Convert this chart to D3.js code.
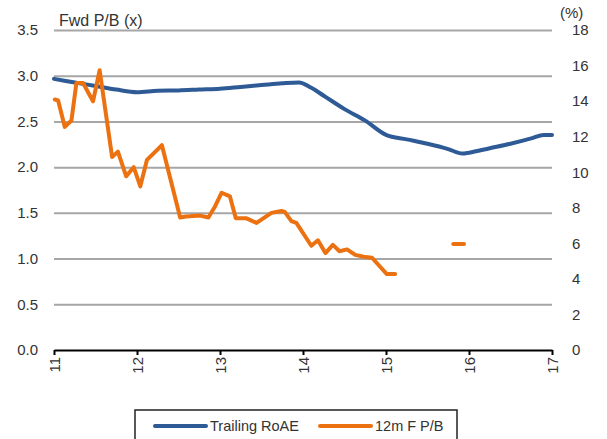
<!DOCTYPE html>
<html><head><meta charset="utf-8">
<script src="https://cdn.jsdelivr.net/npm/d3@7"></script>
<style>
html,body{margin:0;padding:0;background:#fff;}
svg{display:block;font-family:"Liberation Sans",Arial,sans-serif;}
</style></head>
<body><svg id="c" width="607" height="439"></svg>
<script>
// ---- data ----
const leftTicks = [0.0, 0.5, 1.0, 1.5, 2.0, 2.5, 3.0, 3.5];
const rightTicks = [0, 2, 4, 6, 8, 10, 12, 14, 16, 18];
const xTicks = [11, 12, 13, 14, 15, 16, 17];
const leftTitle = "Fwd P/B (x)";
const rightTitle = "(%)";
const seriesNames = ["Trailing RoAE", "12m F P/B"];

const roaeYears  = [11.0, 11.25, 11.5, 11.75, 12.0, 12.25, 12.5, 12.75, 13.0, 13.25, 13.5, 13.75, 13.95, 14.1, 14.25, 14.5, 14.75, 15.0, 15.25, 15.5, 15.75, 15.92, 16.0, 16.25, 16.5, 16.75, 16.9, 17.0];
const roaeValues = [15.25, 15.05, 14.85, 14.65, 14.5, 14.58, 14.6, 14.65, 14.7, 14.8, 14.9, 15.0, 15.05, 14.75, 14.3, 13.55, 12.9, 12.1, 11.85, 11.6, 11.3, 11.05, 11.1, 11.35, 11.6, 11.9, 12.1, 12.1];

const pbYears  = [11.01, 11.05, 11.13, 11.21, 11.27, 11.35, 11.47, 11.55, 11.70, 11.77, 11.87, 11.96, 12.04, 12.12, 12.30, 12.52, 12.59, 12.76, 12.86, 12.94, 13.02, 13.12, 13.19, 13.32, 13.44, 13.62, 13.74, 13.78, 13.86, 13.92, 14.10, 14.18, 14.27, 14.36, 14.44, 14.53, 14.63, 14.73, 14.83, 14.91, 15.01, 15.11, 15.5, 15.81, 15.94, 16.2];
const pbValues = [2.74, 2.73, 2.44, 2.51, 2.92, 2.92, 2.72, 3.06, 2.11, 2.17, 1.90, 2.00, 1.79, 2.08, 2.24, 1.45, 1.46, 1.47, 1.45, 1.57, 1.72, 1.68, 1.44, 1.44, 1.39, 1.50, 1.52, 1.51, 1.41, 1.39, 1.14, 1.20, 1.06, 1.15, 1.08, 1.10, 1.04, 1.02, 1.01, 0.93, 0.83, 0.83, null, 1.16, 1.16, null];

// ---- chart ----
const svg = d3.select("#c");
const x = d3.scaleLinear().domain([11, 17]).range([54, 552]);
const yL = d3.scaleLinear().domain([0, 3.5]).range([350, 30]);
const yR = d3.scaleLinear().domain([0, 18]).range([350, 30]);
const blue = "#2E5A95", orange = "#EC7110", txt = "#333";

// gridlines (left axis ticks)
const grid = svg.append("g").attr("transform", "translate(54,0)")
  .call(d3.axisLeft(yL).tickValues(leftTicks.filter(t => t > 0)).tickSize(-498).tickFormat(""));
grid.select(".domain").remove();
grid.selectAll("line").attr("stroke", "#a6a6a6").attr("stroke-width", 2);

// left labels
const la = svg.append("g").attr("transform", "translate(38,0)")
  .call(d3.axisLeft(yL).tickValues(leftTicks).tickSize(0).tickFormat(d3.format(".1f")));
la.select(".domain").remove();
la.selectAll("text").attr("fill", txt).style("font-size", "15px").attr("x", 0);

// right labels
const ra = svg.append("g").attr("transform", "translate(572,0)")
  .call(d3.axisRight(yR).tickValues(rightTicks).tickSize(0).tickFormat(d3.format("d")));
ra.select(".domain").remove();
ra.selectAll("text").attr("fill", txt).style("font-size", "15px").attr("x", 0);

// titles
svg.append("text").attr("x", 59).attr("y", 26).attr("fill", txt).style("font-size", "16px").text(leftTitle);
svg.append("text").attr("x", 560).attr("y", 18).attr("fill", txt).style("font-size", "15px").text(rightTitle);

// x axis
const xa = svg.append("g").attr("transform", "translate(0,350)")
  .call(d3.axisBottom(x).tickValues(xTicks).tickSize(5).tickSizeOuter(0).tickFormat(d3.format("d")));
xa.select(".domain").attr("stroke", "#000").attr("stroke-width", 2);
xa.selectAll(".tick line").attr("stroke", "#000").attr("stroke-width", 2);
xa.selectAll("text").attr("fill", txt).style("font-size", "15px")
  .attr("transform", "rotate(-90)").attr("text-anchor", "end")
  .attr("x", -7).attr("y", 0).attr("dy", "0.35em");

// lines
const roae = roaeYears.map((t, i) => ({t, v: roaeValues[i]}));
const pb = pbYears.map((t, i) => ({t, v: pbValues[i]}));

svg.append("path").datum(roae)
  .attr("d", d3.line().x(d => x(d.t)).y(d => yR(d.v)).curve(d3.curveMonotoneX))
  .attr("fill", "none").attr("stroke", blue).attr("stroke-width", 4).attr("stroke-linecap", "round");

svg.append("path").datum(pb)
  .attr("d", d3.line().defined(d => d.v != null).x(d => x(d.t)).y(d => yL(d.v)))
  .attr("fill", "none").attr("stroke", orange).attr("stroke-width", 4)
  .attr("stroke-linejoin", "round").attr("stroke-linecap", "round");

// legend
const lg = svg.append("g");
lg.append("rect").attr("x", 135).attr("y", 410).attr("width", 322).attr("height", 40)
  .attr("fill", "#fff").attr("stroke", "#222").attr("stroke-width", 1.5);
const items = [{name: seriesNames[0], c: blue, x: 155}, {name: seriesNames[1], c: orange, x: 320}];
items.forEach(it => {
  lg.append("line").attr("x1", it.x).attr("x2", it.x + 51).attr("y1", 426).attr("y2", 426)
    .attr("stroke", it.c).attr("stroke-width", 4).attr("stroke-linecap", "round");
  lg.append("text").attr("x", it.x + 55).attr("y", 431).attr("fill", txt).style("font-size", "14.5px").text(it.name);
});
</script></body></html>
